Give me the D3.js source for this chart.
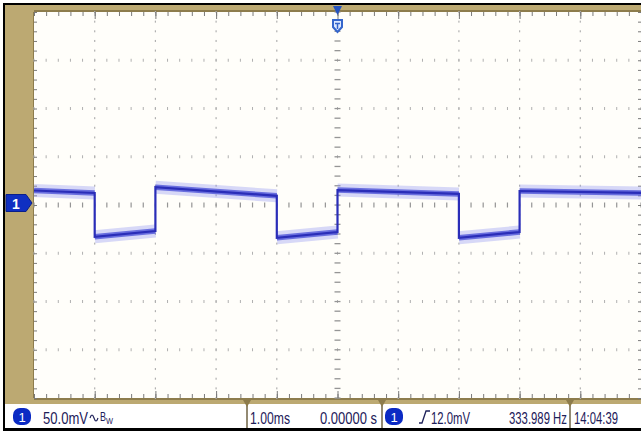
<!DOCTYPE html>
<html><head><meta charset="utf-8">
<script src="https://cdn.jsdelivr.net/npm/d3@7"></script>
<style>body{margin:0;background:#fff}svg{display:block}</style>
</head><body><svg id="c" width="641" height="431"></svg>
<script>
// ---- data (time in ms, voltage in mV) ----
const timeMs    = [-5.0, -4.0, -4.0, -3.0, -3.0, -1.0, -1.0, 0.0, 0.0, 2.0, 2.0, 3.0, 3.0, 5.0];
const voltageMv = [15.0, 12.5, -33.0, -27.0, 18.5, 9.5, -34.0, -28.0, 15.5, 11.5, -34.0, -28.0, 14.5, 12.5];
const timeDomainMs = [-5, 5];
const voltDomainMv = [-200, 200];
const timePerDivMs = 1;
const voltPerDivMv = 50;
const statusTexts = ["50.0mV", "1.00ms", "0.00000 s", "12.0mV", "333.989 Hz", "14:04:39"];
const channelLabel = "1";

const svg = d3.select("#c");
const W = 641, H = 431;
const L = 34, R = 641, T = 12, B = 398;
const tan = "#bca972", tanDark = "#8d7c4c";
const FONT = "'Liberation Sans','Arial',sans-serif";

const x = d3.scaleLinear().domain(timeDomainMs).range([L, R]);
const y = d3.scaleLinear().domain(voltDomainMv).range([B, T]);

// frame
svg.append("rect").attr("x",0).attr("y",0).attr("width",W).attr("height",H).attr("fill","#fff");
svg.append("rect").attr("x",3).attr("y",3).attr("width",W-3).attr("height",H-3).attr("fill","#000");
svg.append("rect").attr("x",5).attr("y",5).attr("width",W-5).attr("height",399).attr("fill",tan);
svg.append("rect").attr("x",L).attr("y",T).attr("width",R-L).attr("height",B-T).attr("fill","#fffefa");
svg.append("line").attr("x1",L).attr("x2",R).attr("y1",T-1).attr("y2",T-1).attr("stroke",tanDark).attr("stroke-width",2);
svg.append("line").attr("x1",L).attr("x2",R).attr("y1",B+1).attr("y2",B+1).attr("stroke",tanDark).attr("stroke-width",2);
svg.append("line").attr("x1",L-0.5).attr("x2",L-0.5).attr("y1",T).attr("y2",B).attr("stroke",tanDark).attr("stroke-width",1);

// grid
const minorX = d3.range(timeDomainMs[0], timeDomainMs[1] + 1e-6, timePerDivMs/5);
const minorY = d3.range(voltDomainMv[0], voltDomainMv[1] + 1e-6, voltPerDivMv/5);
const majorX = d3.range(timeDomainMs[0] + timePerDivMs, timeDomainMs[1] - 1e-6, timePerDivMs);
const majorY = d3.range(voltDomainMv[0] + voltPerDivMv, voltDomainMv[1] - 1e-6, voltPerDivMv);
const grid = svg.append("g").attr("fill","#b0b0b0");
majorX.filter(v => v !== 0).forEach(mx => {
  minorY.forEach(my => grid.append("rect").attr("x",x(mx)-0.6).attr("y",y(my)-1).attr("width",1.2).attr("height",2));
});
majorY.filter(v => v !== 0).forEach(my => {
  minorX.forEach(mx => grid.append("rect").attr("x",x(mx)-0.5).attr("y",y(my)-1.5).attr("width",1).attr("height",3));
});
minorY.forEach(my => grid.append("rect").attr("x",x(0)-3).attr("y",y(my)-0.6).attr("width",6).attr("height",1.3).attr("fill","#959595"));
minorX.forEach(mx => grid.append("rect").attr("x",x(mx)-0.6).attr("y",y(0)-2.5).attr("width",1.2).attr("height",5).attr("fill","#959595"));

// border ticks via axes
const tickStyle = g => { g.select(".domain").remove(); g.selectAll(".tick line").attr("stroke","#7a7a7a"); g.selectAll("text").remove(); };
svg.append("g").attr("transform",`translate(0,${T})`).call(d3.axisTop(x).tickValues(minorX).tickSize(-4).tickFormat("")).call(tickStyle);
svg.append("g").attr("transform",`translate(0,${B})`).call(d3.axisBottom(x).tickValues(minorX).tickSize(-4).tickFormat("")).call(tickStyle);
svg.append("g").attr("transform",`translate(${L},0)`).call(d3.axisLeft(y).tickValues(minorY).tickSize(-3).tickFormat("")).call(tickStyle);
svg.append("g").attr("transform",`translate(${R},0)`).call(d3.axisRight(y).tickValues(minorY).tickSize(-3).tickFormat("")).call(tickStyle);
svg.append("g").attr("transform",`translate(0,${T})`).call(d3.axisTop(x).tickValues(majorX).tickSize(-7).tickFormat("")).call(tickStyle);
svg.append("g").attr("transform",`translate(0,${B})`).call(d3.axisBottom(x).tickValues(majorX).tickSize(-7).tickFormat("")).call(tickStyle);

// trace
const pts = timeMs.map((t,i) => [t, voltageMv[i]]);
const trace = svg.append("g");
const flats = d3.pairs(pts).filter(([a,b]) => a[0] !== b[0]);
const line = d3.line().x(d => x(d[0])).y(d => y(d[1]));
trace.selectAll(".band").data(flats).join("path").attr("d", line)
  .attr("fill","none").attr("stroke","rgba(140,146,240,0.35)").attr("stroke-width",13);
trace.selectAll(".band2").data(flats).join("path").attr("d", line)
  .attr("fill","none").attr("stroke","rgba(70,76,215,0.75)").attr("stroke-width",5.5);
trace.append("path").attr("d", line(pts)).attr("fill","none")
  .attr("stroke","#2a2db8").attr("stroke-width",2.2);

// channel ground marker
const gy = y(0) - 2;
svg.append("path").attr("d",`M6,${gy-8.5} H26 L32,${gy} L26,${gy+8.5} H6 Z`)
  .attr("fill","#0f2fc2").attr("stroke","#0a1f8a").attr("stroke-width",1);
svg.append("text").attr("x",16).attr("y",gy+5.5).attr("text-anchor","middle")
  .attr("font-family",FONT).attr("font-size",14).attr("font-weight","bold")
  .attr("fill","#fff").text(channelLabel);

// trigger marker
const tx = x(0);
svg.append("path").attr("d",`M${tx-4.5},6 H${tx+4.5} L${tx},15 Z`).attr("fill","#2553c0");
svg.append("path").attr("d",`M${tx-4.5},20 H${tx+4.5} V27 L${tx},32 L${tx-4.5},27 Z`)
  .attr("fill","#dde9ff").attr("stroke","#3566cc").attr("stroke-width",2);
svg.append("path").attr("d",`M${tx-2.5},23.5 H${tx+2.5} M${tx},23.5 V29`).attr("stroke","#3566cc").attr("stroke-width",1.5);

// status bar
svg.append("rect").attr("x",5).attr("y",404).attr("width",W-5).attr("height",24).attr("fill","#fff");
[247, 382, 570].forEach(sx => {
  svg.append("line").attr("x1",sx).attr("x2",sx).attr("y1",402).attr("y2",428).attr("stroke","#6f6344").attr("stroke-width",1.5);
  svg.append("path").attr("d",`M${sx-4},400 H${sx+4} L${sx},407 Z`).attr("fill",tanDark);
});
const txtCol = "#1d2059";
// condensed text: natural glyphs squeezed horizontally by a transform
const st = (x0, txt, len, size=16.5, by=424) => {
  const g = svg.append("g");
  const t = g.append("text").attr("x",0).attr("y",0)
    .attr("font-family",FONT).attr("font-size",size).attr("fill",txtCol).text(txt);
  const nat = t.node().getComputedTextLength();
  g.attr("transform",`translate(${x0},${by}) scale(${len/nat},1)`);
  return g;
};
const badge = bx => {
  svg.append("rect").attr("x",bx).attr("y",408).attr("width",18).attr("height",17).attr("rx",7).attr("fill","#0b2ac4");
  svg.append("text").attr("x",bx+9).attr("y",422).attr("text-anchor","middle").attr("font-family",FONT)
    .attr("font-size",13).attr("fill","#fff").text(channelLabel);
};
badge(13);
st(43, statusTexts[0], 45);
svg.append("path").attr("d","M90,418 q2,-6 4,0 q2,6 4,0").attr("fill","none").attr("stroke",txtCol).attr("stroke-width",1.2);
st(100, "B", 6, 13, 421);
st(106, "W", 7, 9, 424);
st(250, statusTexts[1], 40);
st(320, statusTexts[2], 57);
badge(385);
svg.append("path").attr("d","M419,423 H422 L426,411 H430").attr("fill","none").attr("stroke",txtCol).attr("stroke-width",1.3);
st(431, statusTexts[3], 39);
st(509, statusTexts[4], 58);
st(574, statusTexts[5], 44);
</script></body></html>
